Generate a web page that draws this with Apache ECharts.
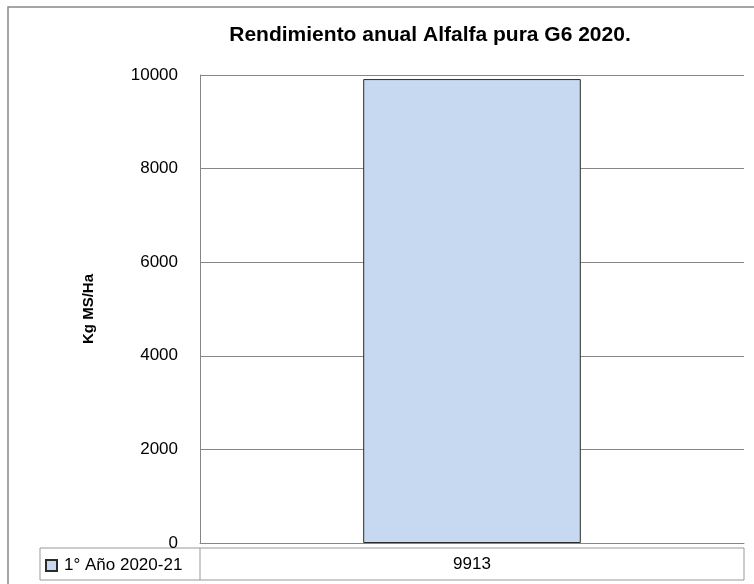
<!DOCTYPE html>
<html>
<head>
<meta charset="utf-8">
<script src="https://cdn.jsdelivr.net/npm/echarts@6/dist/echarts.min.js"></script>
<style>html,body{margin:0;padding:0;background:#fff}#c{width:754px;height:584px}</style>
</head>
<body>
<div id="c"></div>
<script>
const titleText = 'Rendimiento anual Alfalfa pura G6 2020.';
const yAxisName = 'Kg MS/Ha';
const seriesName = '1° Año 2020-21';
const categories = [''];
const values = [9913];
const yTicks = { min: 0, max: 10000, interval: 2000 };

const FONT = '"Liberation Sans", Arial, sans-serif';
const chart = echarts.init(document.getElementById('c'), null, { renderer: 'canvas' });
const gridLeft = 200, gridRight = 10, gridTop = 75, gridBottom = 41;
const W = 754, H = 584;
const plotCenterX = gridLeft + (W - gridLeft - gridRight) / 2;

chart.setOption({
  animation: false,
  backgroundColor: '#fff',
  title: {
    text: titleText,
    left: 425, top: 20, textAlign: 'center',
    textStyle: { fontFamily: FONT, fontSize: 21, fontWeight: 'bold', color: '#000' }
  },
  grid: { left: gridLeft, right: gridRight, top: gridTop, bottom: gridBottom },
  legend: {
    show: true, left: 45, top: 557, itemWidth: 11, itemHeight: 11, itemGap: 4,
    icon: 'rect', selectedMode: false, padding: 0,
    textStyle: { fontFamily: FONT, fontSize: 17, color: '#000', padding: [0, 0, 0, 2] },
    data: [seriesName]
  },
  xAxis: {
    type: 'category', data: categories,
    axisLine: { show: true, lineStyle: { color: '#868686', width: 1 } },
    axisTick: { show: false }, axisLabel: { show: false }, splitLine: { show: false }
  },
  yAxis: {
    type: 'value', min: yTicks.min, max: yTicks.max, interval: yTicks.interval,
    name: yAxisName, nameLocation: 'middle', nameGap: 104, nameRotate: 90,
    nameTextStyle: { fontFamily: FONT, fontSize: 15, fontWeight: 'bold', color: '#000' },
    axisLine: { show: true, lineStyle: { color: '#868686', width: 1 } },
    axisTick: { show: false },
    axisLabel: { fontFamily: FONT, fontSize: 17, color: '#000', margin: 22, formatter: v => String(v) },
    splitLine: { show: true, lineStyle: { color: '#868686', width: 1 } }
  },
  series: [{
    name: seriesName, type: 'bar', data: values, barWidth: '40%',
    itemStyle: { color: '#C6D9F1', borderColor: '#2b2b2b', borderWidth: 1 }
  }],
  graphic: [
    { type: 'rect', shape: { x: 8, y: 7, width: 760, height: 600 }, style: { fill: 'none', stroke: '#888', lineWidth: 1.5 }, silent: true },
    { type: 'rect', shape: { x: 40, y: 548, width: 704, height: 32 }, style: { fill: 'none', stroke: '#999', lineWidth: 1 }, silent: true },
    { type: 'line', shape: { x1: 200, y1: 548, x2: 200, y2: 580 }, style: { stroke: '#999', lineWidth: 1 }, silent: true },
    { type: 'text', x: plotCenterX, y: 564, style: { text: String(values[0]), fontFamily: FONT, fontSize: 17, fill: '#000', align: 'center', verticalAlign: 'middle' }, silent: true }
  ]
});
</script>
</body>
</html>
